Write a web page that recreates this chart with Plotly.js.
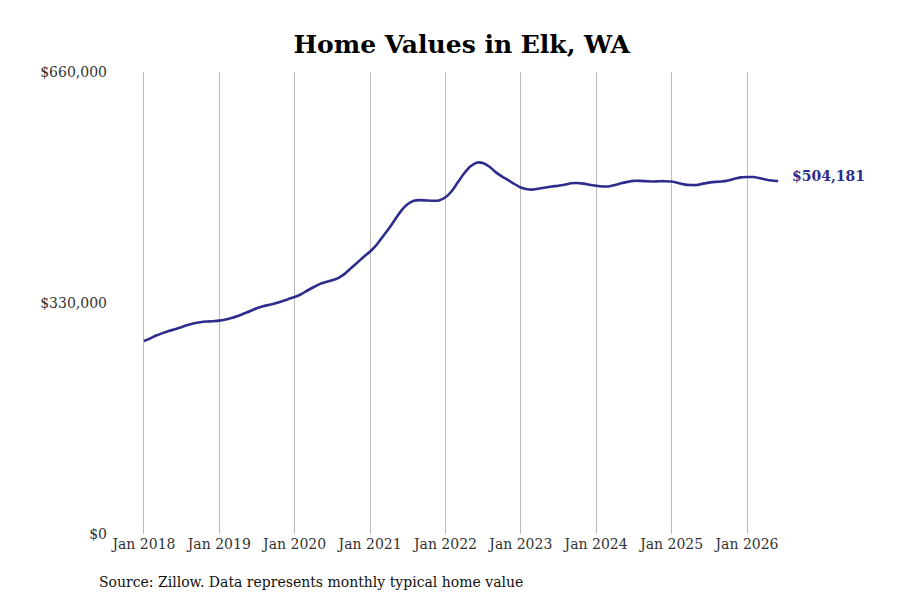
<!DOCTYPE html>
<html>
<head>
<meta charset="utf-8">
<script src="https://cdn.plot.ly/plotly-3.0.1.min.js"></script>
<style>
  body { margin: 0; background: #fff; }
  #chart { width: 900px; height: 600px; }
</style>
</head>
<body>
<div id="chart"></div>
<script>
/*
 Data: monthly typical home value, Jan 2018 - Jun 2026
*/

var start_year = 2018;

var values = [
  // 2018
  275700, 279500, 283500, 287000, 290000, 292500, 295500, 298500, 301000, 302500, 303500, 304000,
  // 2019
  304800, 306500, 308500, 311500, 315000, 318500, 322500, 325500, 327500, 329500, 332500, 335500,
  // 2020
  338500, 342500, 347500, 352500, 357000, 360000, 362500, 366000, 372000, 380000, 388000, 396000,
  // 2021
  403500, 413000, 424000, 436000, 449000, 462000, 471000, 476000, 477000, 476500, 476000, 476500,
  // 2022
  481000, 490000, 502000, 515000, 525000, 530500, 530000, 525000, 517000, 511000, 505500, 500000,
  // 2023
  495000, 492500, 492000, 493500, 495000, 496500, 497500, 499000, 501000, 501500, 500500, 499000,
  // 2024
  497500, 496500, 496500, 498500, 501000, 503000, 504500, 504500, 504000, 503500, 504000, 504000,
  // 2025
  503500, 501500, 499500, 498500, 498500, 500500, 502000, 503000, 503500, 505000, 507500, 509500,
  // 2026
  510000, 510000, 508500, 506500, 505000, 504181
];

var tick_years = [2018, 2019, 2020, 2021, 2022, 2023, 2024, 2025, 2026];
var y_ticks = [0, 330000, 660000];
var y_labels = ["$0", "$330,000", "$660,000"];

var dates = values.map(function(v, i) {
  var y = start_year + Math.floor(i / 12);
  var m = (i % 12) + 1;
  return y + "-" + (m < 10 ? "0" + m : m) + "-01";
});

var tick_vals = tick_years.map(function(y) { return y + "-01-01"; });
var tick_text = tick_years.map(function(y) { return "Jan " + y; });

var last_date = dates[dates.length - 1];
var last_value = values[values.length - 1];

var trace = {
  x: dates,
  y: values,
  type: "scatter",
  mode: "lines",
  line: { color: "#2e2d8c", width: 2.6, shape: "spline", smoothing: 0.6 },
  hoverinfo: "skip"
};

var layout = {
  width: 900,
  height: 600,
  margin: { l: 120, r: 30, t: 72, b: 66 },
  paper_bgcolor: "#fff",
  plot_bgcolor: "#fff",
  font: { family: "DejaVu Serif, serif", color: "#333", size: 14 },
  title: {
    text: "<b>Home Values in Elk, WA</b>",
    font: { family: "DejaVu Serif, serif", size: 25, color: "#000" },
    x: 0.513,
    xanchor: "center",
    y: 0.927,
    yanchor: "middle"
  },
  showlegend: false,
  xaxis: {
    type: "date",
    range: ["2017-09-07", "2027-08-20"],
    tickvals: tick_vals,
    ticktext: tick_text,
    showgrid: true,
    gridcolor: "#bbbbbb",
    gridwidth: 1,
    zeroline: false,
    showline: false,
    ticks: "",
    tickfont: { size: 14, color: "#333" }
  },
  yaxis: {
    range: [0, 660000],
    tickvals: y_ticks,
    ticktext: y_labels,
    showgrid: false,
    zeroline: false,
    showline: false,
    ticks: "",
    ticklabelstandoff: 12,
    tickfont: { size: 14, color: "#333" }
  },
  annotations: [
    {
      x: last_date,
      y: last_value,
      xref: "x",
      yref: "y",
      text: "<b>$504,181</b>",
      showarrow: false,
      xanchor: "left",
      yanchor: "middle",
      xshift: 12,
      yshift: 5,
      font: { family: "DejaVu Serif, serif", size: 14, color: "#2e2d8c" }
    },
    {
      x: 97,
      y: 582,
      xref: "paper",
      yref: "paper",
      text: "Source: Zillow. Data represents monthly typical home value",
      showarrow: false,
      xanchor: "left",
      yanchor: "middle",
      font: { family: "DejaVu Serif, serif", size: 14, color: "#111" }
    }
  ]
};

// put the source note in pixel terms below the plot
var plot_w = 900 - layout.margin.l - layout.margin.r;
var plot_h = 600 - layout.margin.t - layout.margin.b;
layout.annotations[1].x = (97 - layout.margin.l) / plot_w;
layout.annotations[1].y = (600 - layout.margin.b - 582) / plot_h;

var config = { displayModeBar: false, staticPlot: true };

Plotly.newPlot("chart", [trace], layout, config);
</script>
</body>
</html>
